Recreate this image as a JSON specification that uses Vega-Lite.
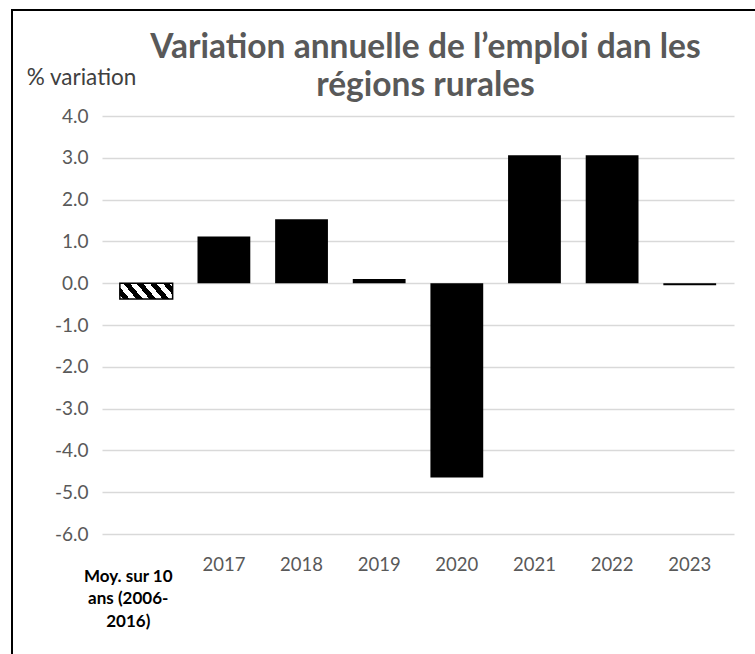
{
  "$schema": "https://vega.github.io/schema/vega-lite/v6.json",
  "autosize": "none",
  "width": 763,
  "height": 664,
  "padding": {"left": 12, "top": 10, "right": -20, "bottom": -20},
  "background": "white",
  "title": {
    "text": ["Variation annuelle de l’emploi dan les", "régions rurales"],
    "font": "Lato",
    "fontSize": 33.5,
    "fontWeight": "bold",
    "color": "#595959",
    "anchor": "middle",
    "frame": "group",
    "baseline": "alphabetic",
    "lineHeight": 38,
    "offset": -119,
    "dx": 32
  },
  "config": {
    "view": {"stroke": "black", "strokeWidth": 2, "strokeDash": [764, 1426, 700]},
    "axis": {"labelFont": "Lato", "titleFont": "Lato"}
  },
  "data": {
    "values": [
      {"cat": "Moy. sur 10|ans (2006-|2016)", "v": -0.38},
      {"cat": "2017", "v": 1.12},
      {"cat": "2018", "v": 1.53},
      {"cat": "2019", "v": 0.1},
      {"cat": "2020", "v": -4.65},
      {"cat": "2021", "v": 3.06},
      {"cat": "2022", "v": 3.06},
      {"cat": "2023", "v": -0.05}
    ]
  },
  "encoding": {
    "x": {
      "field": "cat",
      "type": "nominal",
      "sort": null,
      "scale": {
        "domain": ["Moy. sur 10|ans (2006-|2016)", "2017", "2018", "2019", "2020", "2021", "2022", "2023"],
        "range": [90, 722],
        "paddingInner": 0.32,
        "paddingOuter": 0.23
      },
      "axis": {
        "orient": "bottom",
        "title": null,
        "offset": -140,
        "domain": false,
        "ticks": false,
        "labelAngle": 0,
        "labelAlign": "center",
        "labelBaseline": "top",
        "labelExpr": "split(datum.label, '|')",
        "labelLineHeight": 22.5,
        "labelLimit": 0,
        "labelColor": {"condition": {"test": "indexof(datum.value, 'Moy') >= 0", "value": "black"}, "value": "#595959"},
        "labelFontWeight": {"condition": {"test": "indexof(datum.value, 'Moy') >= 0", "value": "bold"}, "value": "normal"},
        "labelFontSize": {"condition": {"test": "indexof(datum.value, 'Moy') >= 0", "value": 17}, "value": 18.5},
        "labelOffset": {"condition": {"test": "indexof(datum.value, 'Moy') >= 0", "value": -18}, "value": 0},
        "labelPadding": {"condition": {"test": "indexof(datum.value, 'Moy') >= 0", "value": 34}, "value": 21}
      }
    },
    "y": {
      "field": "v",
      "type": "quantitative",
      "scale": {"domain": [-6, 4], "range": [524, 106], "nice": false, "zero": false},
      "axis": {
        "orient": "left",
        "offset": -90,
        "values": [-6, -5, -4, -3, -2, -1, 0, 1, 2, 3, 4],
        "format": ".1f",
        "labelExpr": "replace(datum.label, '\u2212', '-')",
        "domain": false,
        "ticks": false,
        "grid": true,
        "gridColor": "#d9d9d9",
        "gridWidth": 1.5,
        "labelFontSize": 19,
        "labelColor": "#595959",
        "labelPadding": 14,
        "title": "% variation",
        "titleAngle": 0,
        "titleAlign": "center",
        "titleBaseline": "middle",
        "titleX": -21,
        "titleY": 67,
        "titleFontSize": 22.5,
        "titleFontWeight": "normal",
        "titleColor": "#404040"
      }
    }
  },
  "layer": [
    {
      "transform": [{"filter": "indexof(datum.cat, 'Moy') < 0"}],
      "mark": {"type": "bar", "fill": "black", "stroke": null}
    },
    {
      "transform": [{"filter": "indexof(datum.cat, 'Moy') >= 0"}],
      "mark": {
        "type": "bar",
        "stroke": "black",
        "strokeWidth": 1.5,
        "fill": {
          "gradient": "linear",
          "x1": 0, "y1": 1, "x2": 1.177, "y2": 0.703,
          "stops": [
            {"offset": 0, "color": "white"},
            {"offset": 0.05, "color": "white"},
            {"offset": 0.05, "color": "black"},
            {"offset": 0.15, "color": "black"},
            {"offset": 0.15, "color": "white"},
            {"offset": 0.25, "color": "white"},
            {"offset": 0.25, "color": "black"},
            {"offset": 0.35, "color": "black"},
            {"offset": 0.35, "color": "white"},
            {"offset": 0.45, "color": "white"},
            {"offset": 0.45, "color": "black"},
            {"offset": 0.55, "color": "black"},
            {"offset": 0.55, "color": "white"},
            {"offset": 0.65, "color": "white"},
            {"offset": 0.65, "color": "black"},
            {"offset": 0.75, "color": "black"},
            {"offset": 0.75, "color": "white"},
            {"offset": 0.85, "color": "white"},
            {"offset": 0.85, "color": "black"},
            {"offset": 0.95, "color": "black"},
            {"offset": 0.95, "color": "white"},
            {"offset": 1, "color": "white"}
          ]
        }
      }
    }
  ]
}
